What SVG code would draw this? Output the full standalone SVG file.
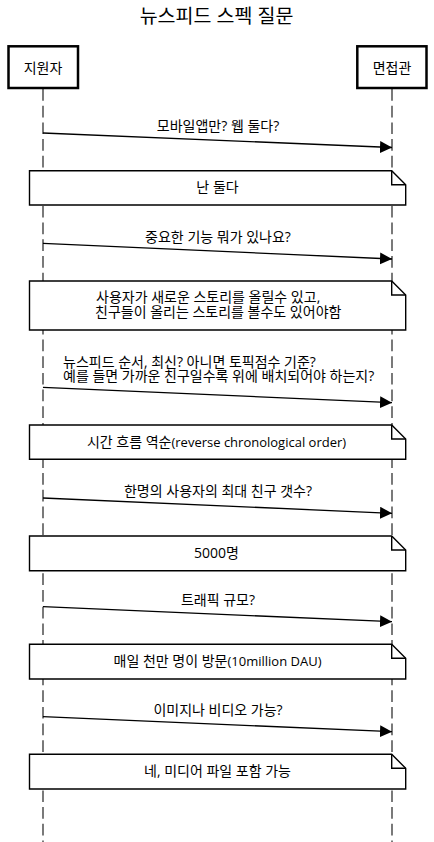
<svg xmlns="http://www.w3.org/2000/svg" width="434" height="842" viewBox="0 0 434 842">
<style>
text{font-family:"Open Sans","Noto Sans CJK KR",sans-serif;font-size:14px;fill:#000}
.c{text-anchor:middle}
.lat{font-size:13px}
.actor{fill:#fff;stroke:#000;stroke-width:2.5}
.life{stroke:#333;stroke-width:1.3;stroke-dasharray:11.7,5;fill:none}
.msg{stroke:#000;stroke-width:1.3;fill:none;marker-end:url(#arr)}
.note{fill:#fff;stroke:#000;stroke-width:1.4}
.fold{fill:none;stroke:#000;stroke-width:1.4}
</style>
<defs>
<marker id="arr" markerUnits="userSpaceOnUse" markerWidth="13" markerHeight="13" refX="12" refY="6" orient="auto">
<path d="M0,0 L12,6 L0,12 Z" fill="#000"/>
</marker>
</defs>
<rect width="434" height="842" fill="#fff"/>
<text id="title" class="c" x="216.5" y="22.5" style="font-size:19.5px">뉴스피드 스펙 질문</text>
<g id="lifelines">
<line class="life" x1="43" y1="89" x2="43" y2="842"/>
<line class="life" x1="392" y1="89" x2="392" y2="842"/>
</g>
<g id="actor-applicant">
<rect class="actor" x="8.5" y="46.3" width="69.5" height="41.7"/>
<text class="c" x="43" y="72.5">지원자</text>
</g>
<g id="actor-interviewer">
<rect class="actor" x="357.3" y="46.3" width="69.2" height="41.7"/>
<text class="c" x="392" y="72.5">면접관</text>
</g>
<g id="connectors">
<line class="msg" x1="43" y1="133" x2="392" y2="147.5"/>
<line class="msg" x1="43" y1="243.3" x2="392" y2="259"/>
<line class="msg" x1="43" y1="387.3" x2="392" y2="402.7"/>
<line class="msg" x1="43" y1="498" x2="392" y2="513.3"/>
<line class="msg" x1="43" y1="606.7" x2="392" y2="621.7"/>
<line class="msg" x1="43" y1="716.7" x2="392" y2="731.7"/>
<text class="c" x="218" y="131">모바일앱만? 웹 둘다?</text>
<text class="c" x="218" y="241.5">중요한 기능 뭐가 있나요?</text>
<text x="63" y="366.5">뉴스피드 순서, 최신? 아니면 토픽점수 기준?</text>
<text x="63" y="380.5">예를 들면 가까운 친구일수록 위에 배치되어야 하는지?</text>
<text class="c" x="218" y="496">한명의 사용자의 최대 친구 갯수?</text>
<text class="c" x="218" y="604.5">트래픽 규모?</text>
<text class="c" x="218" y="714.5">이미지나 비디오 가능?</text>
</g>
<g id="note1">
<path class="note" d="M29.5,170.7 H391.7 L405.7,184.7 V205 H29.5 Z"/>
<path class="fold" d="M391.7,170.7 V184.7 H405.7"/>
<text class="c" x="217.5" y="192">난 둘다</text>
</g>
<g id="note2">
<path class="note" d="M29.5,281 H391.7 L405.7,295 V330 H29.5 Z"/>
<path class="fold" d="M391.7,281 V295 H405.7"/>
<text x="96" y="301.5">사용자가 새로운 스토리를 올릴수 있고,</text>
<text x="95" y="316.5">친구들이 올리는 스토리를 볼수도 있어야함</text>
</g>
<g id="note3">
<path class="note" d="M29.5,425 H391.7 L405.7,439 V459.3 H29.5 Z"/>
<path class="fold" d="M391.7,425 V439 H405.7"/>
<text class="c" x="216.5" y="447">시간 흐름 역순<tspan class="lat">(reverse chronological order)</tspan></text>
</g>
<g id="note4">
<path class="note" d="M29.5,536 H391.7 L405.7,550 V570.7 H29.5 Z"/>
<path class="fold" d="M391.7,536 V550 H405.7"/>
<text class="c" x="216.5" y="557.5">5000명</text>
</g>
<g id="note5">
<path class="note" d="M29.5,644.3 H391.7 L405.7,658.3 V679 H29.5 Z"/>
<path class="fold" d="M391.7,644.3 V658.3 H405.7"/>
<text class="c" x="217.5" y="665.5">매일 천만 명이 방문<tspan class="lat">(10million DAU)</tspan></text>
</g>
<g id="note6">
<path class="note" d="M29.5,754.3 H391.7 L405.7,768.3 V789 H29.5 Z"/>
<path class="fold" d="M391.7,754.3 V768.3 H405.7"/>
<text class="c" x="217.5" y="775.5">네, 미디어 파일 포함 가능</text>
</g>
</svg>
